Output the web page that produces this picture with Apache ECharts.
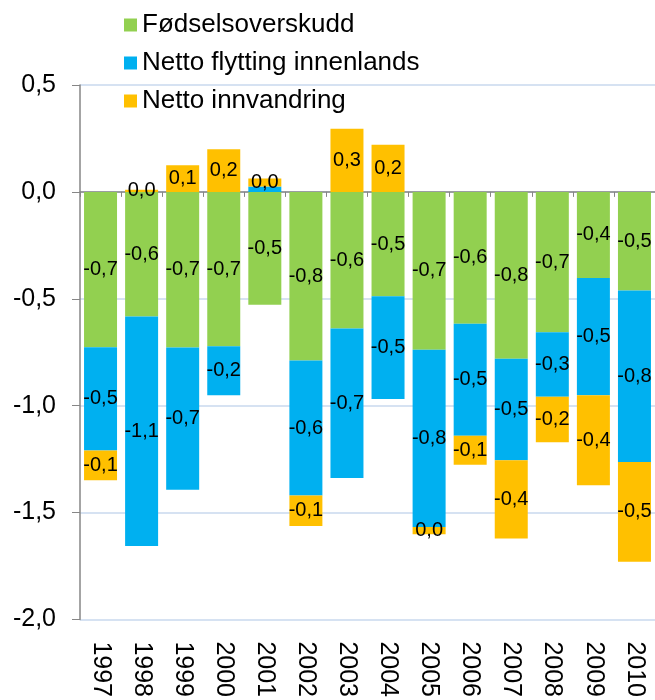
<!DOCTYPE html>
<html>
<head>
<meta charset="utf-8">
<script src="https://cdn.jsdelivr.net/npm/echarts@6/dist/echarts.min.js"></script>
<style>
  html, body { margin: 0; padding: 0; background: #fff; }
  #chart { width: 655px; height: 700px; }
</style>
</head>
<body>
<div id="chart"></div>
<script>
// årstall og komponenter (andel, prosent)
var years = ['1997', '1998', '1999', '2000', '2001', '2002', '2003', '2004', '2005', '2006', '2007', '2008', '2009', '2010'];
var fodselsoverskudd = [-0.727, -0.583, -0.728, -0.722, -0.528, -0.789, -0.639, -0.488, -0.739, -0.617, -0.781, -0.657, -0.403, -0.461];
var flyttingInnenlands = [-0.483, -1.074, -0.666, -0.23, 0.025, -0.632, -0.699, -0.481, -0.829, -0.524, -0.474, -0.301, -0.548, -0.803];
var innvandring = [-0.139, 0.01, 0.125, 0.199, 0.038, -0.142, 0.295, 0.221, -0.034, -0.135, -0.367, -0.213, -0.421, -0.466];
var yTicks = [-2, -1.5, -1, -0.5, 0, 0.5];

function komma(v) {
    var r = Math.round(v * 10) / 10;
    if (r === 0) return '0,0';
    return r.toFixed(1).replace('.', ',');
}

var font = 'Liberation Sans, Arial, sans-serif';
var myChart = echarts.init(document.getElementById('chart'));

function serie(name, data, color) {
    return {
        name: name,
        type: 'bar',
        stack: 'total',
        data: data,
        barWidth: 33,
        itemStyle: { color: color },
        labelLayout: { hideOverlap: true },
        label: {
            show: true,
            position: 'inside',
            color: '#000',
            fontSize: 20,
            fontFamily: font,
            formatter: function (p) { return komma(p.value); }
        }
    };
}

var option = {
    animation: false,
    legend: {
        orient: 'vertical',
        left: 119,
        top: 7,
        padding: 5,
        itemWidth: 13,
        itemHeight: 13,
        itemGap: 12,
        icon: 'rect',
        textStyle: { fontSize: 26, fontFamily: font, color: '#000', lineHeight: 26 },
        data: ['Fødselsoverskudd', 'Netto flytting innenlands', 'Netto innvandring']
    },
    grid: { left: 80, top: 85, width: 578, height: 540, containLabel: false },
    xAxis: [
        {
            type: 'category',
            data: years,
            position: 'bottom',
            axisLine: { show: false, onZero: false },
            axisTick: { show: false },
            axisLabel: { rotate: -90, margin: 22, fontSize: 25, fontFamily: font, color: '#000' }
        },
        {
            type: 'category',
            data: years,
            position: 'bottom',
            axisLine: { show: true, onZero: true, lineStyle: { color: '#868686', width: 1.5 } },
            axisTick: { show: true, length: 5, lineStyle: { color: '#868686' } },
            axisLabel: { show: false }
        }
    ],
    yAxis: {
        type: 'value',
        min: yTicks[0],
        max: yTicks[yTicks.length - 1],
        interval: 0.5,
        axisLine: { show: true, lineStyle: { color: '#868686', width: 1.5 } },
        axisTick: { show: true, length: 8, lineStyle: { color: '#868686' } },
        splitLine: { show: true, lineStyle: { color: '#c8d8ee', width: 1.5 } },
        axisLabel: {
            margin: 24,
            fontSize: 25,
            fontFamily: font,
            color: '#000',
            formatter: function (v) { return v.toFixed(1).replace('.', ','); }
        }
    },
    series: [
        serie('Fødselsoverskudd', fodselsoverskudd, '#92D050'),
        serie('Netto flytting innenlands', flyttingInnenlands, '#00B0F0'),
        serie('Netto innvandring', innvandring, '#FFC000')
    ]
};

myChart.setOption(option);
</script>
</body>
</html>
